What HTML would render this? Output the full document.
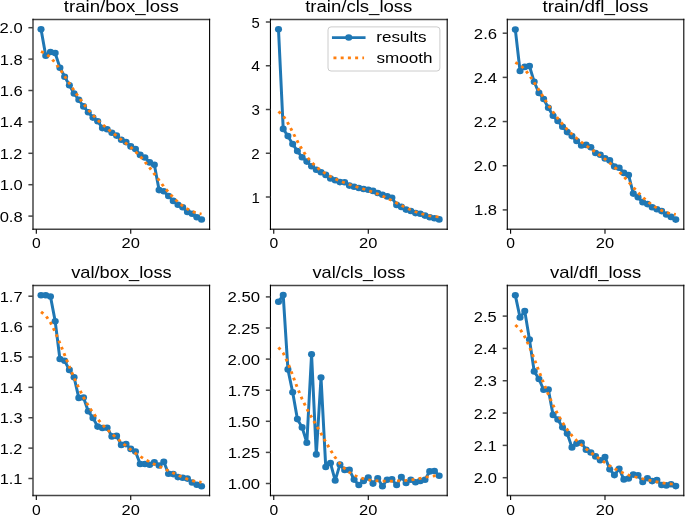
<!DOCTYPE html>
<html><head><meta charset="utf-8"><title>results</title>
<style>html,body{margin:0;padding:0;background:#fff;}svg{display:block;will-change:transform;}text{font-family:"Liberation Sans",sans-serif;fill:#000;}</style>
</head><body>
<svg width="685" height="515" viewBox="0 0 685 515">
<rect width="685" height="515" fill="#fff"/>
<clipPath id="c0"><rect x="30.841" y="19.5" width="165.047" height="209.65"/></clipPath>
<g transform="scale(1.07,1)" clip-path="url(#c0)">
<polyline points="38.34,29.20 42.76,55.70 47.17,52.00 51.58,53.10 56.00,67.70 60.41,76.70 64.82,85.20 69.23,93.50 73.65,99.70 78.06,106.40 82.47,112.20 86.89,117.60 91.30,121.20 95.71,128.10 100.13,129.20 104.54,132.70 108.95,135.60 113.36,139.70 117.78,142.10 122.19,146.40 126.60,149.00 131.02,154.90 135.43,157.50 139.84,162.40 144.26,164.70 148.67,190.10 153.08,191.20 157.49,196.00 161.91,200.90 166.32,204.70 170.73,207.30 175.15,212.00 179.56,213.70 183.97,217.20 188.39,219.50" fill="none" stroke="#1f77b4" stroke-width="2.8" stroke-linejoin="round" stroke-linecap="square"/>
<circle cx="38.34" cy="29.20" r="3.3" fill="#1f77b4"/>
<circle cx="42.76" cy="55.70" r="3.3" fill="#1f77b4"/>
<circle cx="47.17" cy="52.00" r="3.3" fill="#1f77b4"/>
<circle cx="51.58" cy="53.10" r="3.3" fill="#1f77b4"/>
<circle cx="56.00" cy="67.70" r="3.3" fill="#1f77b4"/>
<circle cx="60.41" cy="76.70" r="3.3" fill="#1f77b4"/>
<circle cx="64.82" cy="85.20" r="3.3" fill="#1f77b4"/>
<circle cx="69.23" cy="93.50" r="3.3" fill="#1f77b4"/>
<circle cx="73.65" cy="99.70" r="3.3" fill="#1f77b4"/>
<circle cx="78.06" cy="106.40" r="3.3" fill="#1f77b4"/>
<circle cx="82.47" cy="112.20" r="3.3" fill="#1f77b4"/>
<circle cx="86.89" cy="117.60" r="3.3" fill="#1f77b4"/>
<circle cx="91.30" cy="121.20" r="3.3" fill="#1f77b4"/>
<circle cx="95.71" cy="128.10" r="3.3" fill="#1f77b4"/>
<circle cx="100.13" cy="129.20" r="3.3" fill="#1f77b4"/>
<circle cx="104.54" cy="132.70" r="3.3" fill="#1f77b4"/>
<circle cx="108.95" cy="135.60" r="3.3" fill="#1f77b4"/>
<circle cx="113.36" cy="139.70" r="3.3" fill="#1f77b4"/>
<circle cx="117.78" cy="142.10" r="3.3" fill="#1f77b4"/>
<circle cx="122.19" cy="146.40" r="3.3" fill="#1f77b4"/>
<circle cx="126.60" cy="149.00" r="3.3" fill="#1f77b4"/>
<circle cx="131.02" cy="154.90" r="3.3" fill="#1f77b4"/>
<circle cx="135.43" cy="157.50" r="3.3" fill="#1f77b4"/>
<circle cx="139.84" cy="162.40" r="3.3" fill="#1f77b4"/>
<circle cx="144.26" cy="164.70" r="3.3" fill="#1f77b4"/>
<circle cx="148.67" cy="190.10" r="3.3" fill="#1f77b4"/>
<circle cx="153.08" cy="191.20" r="3.3" fill="#1f77b4"/>
<circle cx="157.49" cy="196.00" r="3.3" fill="#1f77b4"/>
<circle cx="161.91" cy="200.90" r="3.3" fill="#1f77b4"/>
<circle cx="166.32" cy="204.70" r="3.3" fill="#1f77b4"/>
<circle cx="170.73" cy="207.30" r="3.3" fill="#1f77b4"/>
<circle cx="175.15" cy="212.00" r="3.3" fill="#1f77b4"/>
<circle cx="179.56" cy="213.70" r="3.3" fill="#1f77b4"/>
<circle cx="183.97" cy="217.20" r="3.3" fill="#1f77b4"/>
<circle cx="188.39" cy="219.50" r="3.3" fill="#1f77b4"/>
<polyline points="38.34,51.58 42.76,53.60 47.17,57.44 51.58,62.75 56.00,69.13 60.41,76.12 64.82,83.35 69.23,90.51 73.65,97.36 78.06,103.77 82.47,109.67 86.89,115.05 91.30,119.94 95.71,124.38 100.13,128.47 104.54,132.29 108.95,135.96 113.36,139.61 117.78,143.35 122.19,147.31 126.60,151.64 131.02,156.44 135.43,161.79 139.84,167.66 144.26,173.91 148.67,180.29 153.08,186.51 157.49,192.31 161.91,197.50 166.32,202.02 170.73,205.85 175.15,209.00 179.56,211.44 183.97,213.12 188.39,213.99" fill="none" stroke="#ff7f0e" stroke-width="2.75" stroke-dasharray="2.8 3.95" stroke-linejoin="round" stroke-linecap="butt"/>
</g>
<line x1="32.45" y1="19.5" x2="210.15" y2="19.5" stroke="#454545" stroke-width="1.5"/>
<line x1="32.45" y1="229.15" x2="210.15" y2="229.15" stroke="#454545" stroke-width="1.5"/>
<line x1="33.0" y1="18.75" x2="33.0" y2="229.90" stroke="#000" stroke-width="1.1"/>
<line x1="209.6" y1="18.75" x2="209.6" y2="229.90" stroke="#000" stroke-width="1.1"/>
<line x1="28.40" y1="27.70" x2="33.0" y2="27.70" stroke="#454545" stroke-width="1.5"/>
<text transform="translate(-0.44,33.20) scale(1.1787,1)" font-size="14.1">2.0</text>
<line x1="28.40" y1="59.10" x2="33.0" y2="59.10" stroke="#454545" stroke-width="1.5"/>
<text transform="translate(-0.32,64.60) scale(1.1741,1)" font-size="14.1">1.8</text>
<line x1="28.40" y1="90.50" x2="33.0" y2="90.50" stroke="#454545" stroke-width="1.5"/>
<text transform="translate(-0.32,96.00) scale(1.1791,1)" font-size="14.1">1.6</text>
<line x1="28.40" y1="121.90" x2="33.0" y2="121.90" stroke="#454545" stroke-width="1.5"/>
<text transform="translate(-0.31,127.40) scale(1.1711,1)" font-size="14.1">1.4</text>
<line x1="28.40" y1="153.30" x2="33.0" y2="153.30" stroke="#454545" stroke-width="1.5"/>
<text transform="translate(-0.29,158.80) scale(1.1538,1)" font-size="14.1">1.2</text>
<line x1="28.40" y1="184.70" x2="33.0" y2="184.70" stroke="#454545" stroke-width="1.5"/>
<text transform="translate(-0.31,190.20) scale(1.1720,1)" font-size="14.1">1.0</text>
<line x1="28.40" y1="216.10" x2="33.0" y2="216.10" stroke="#454545" stroke-width="1.5"/>
<text transform="translate(-0.36,221.60) scale(1.1764,1)" font-size="14.1">0.8</text>
<line x1="36.31" y1="229.15" x2="36.31" y2="233.75" stroke="#000" stroke-width="1.1"/>
<text transform="translate(31.94,248.45) scale(1.1143,1)" font-size="14.1">0</text>
<line x1="130.74" y1="229.15" x2="130.74" y2="233.75" stroke="#000" stroke-width="1.1"/>
<text transform="translate(121.53,248.45) scale(1.1705,1)" font-size="14.1">20</text>
<text transform="translate(63.82,11.70) scale(1.1795,1)" font-size="15.8">train/box_loss</text>
<clipPath id="c1"><rect x="252.757" y="19.5" width="165.187" height="209.65"/></clipPath>
<g transform="scale(1.07,1)" clip-path="url(#c1)">
<polyline points="260.27,29.30 264.68,128.90 269.10,136.10 273.52,144.10 277.93,151.10 282.35,157.30 286.77,161.60 291.18,166.20 295.60,169.70 300.02,172.30 304.43,174.90 308.85,178.50 313.27,180.30 317.68,182.10 322.10,182.30 326.52,185.60 330.93,186.80 335.35,188.00 339.77,189.00 344.18,189.80 348.60,190.90 353.02,193.00 357.43,194.80 361.85,196.40 366.27,197.70 370.68,204.90 375.10,206.90 379.52,209.60 383.93,211.00 388.35,213.10 392.77,213.70 397.19,215.60 401.60,217.30 406.02,218.30 410.44,219.40" fill="none" stroke="#1f77b4" stroke-width="2.8" stroke-linejoin="round" stroke-linecap="square"/>
<circle cx="260.27" cy="29.30" r="3.3" fill="#1f77b4"/>
<circle cx="264.68" cy="128.90" r="3.3" fill="#1f77b4"/>
<circle cx="269.10" cy="136.10" r="3.3" fill="#1f77b4"/>
<circle cx="273.52" cy="144.10" r="3.3" fill="#1f77b4"/>
<circle cx="277.93" cy="151.10" r="3.3" fill="#1f77b4"/>
<circle cx="282.35" cy="157.30" r="3.3" fill="#1f77b4"/>
<circle cx="286.77" cy="161.60" r="3.3" fill="#1f77b4"/>
<circle cx="291.18" cy="166.20" r="3.3" fill="#1f77b4"/>
<circle cx="295.60" cy="169.70" r="3.3" fill="#1f77b4"/>
<circle cx="300.02" cy="172.30" r="3.3" fill="#1f77b4"/>
<circle cx="304.43" cy="174.90" r="3.3" fill="#1f77b4"/>
<circle cx="308.85" cy="178.50" r="3.3" fill="#1f77b4"/>
<circle cx="313.27" cy="180.30" r="3.3" fill="#1f77b4"/>
<circle cx="317.68" cy="182.10" r="3.3" fill="#1f77b4"/>
<circle cx="322.10" cy="182.30" r="3.3" fill="#1f77b4"/>
<circle cx="326.52" cy="185.60" r="3.3" fill="#1f77b4"/>
<circle cx="330.93" cy="186.80" r="3.3" fill="#1f77b4"/>
<circle cx="335.35" cy="188.00" r="3.3" fill="#1f77b4"/>
<circle cx="339.77" cy="189.00" r="3.3" fill="#1f77b4"/>
<circle cx="344.18" cy="189.80" r="3.3" fill="#1f77b4"/>
<circle cx="348.60" cy="190.90" r="3.3" fill="#1f77b4"/>
<circle cx="353.02" cy="193.00" r="3.3" fill="#1f77b4"/>
<circle cx="357.43" cy="194.80" r="3.3" fill="#1f77b4"/>
<circle cx="361.85" cy="196.40" r="3.3" fill="#1f77b4"/>
<circle cx="366.27" cy="197.70" r="3.3" fill="#1f77b4"/>
<circle cx="370.68" cy="204.90" r="3.3" fill="#1f77b4"/>
<circle cx="375.10" cy="206.90" r="3.3" fill="#1f77b4"/>
<circle cx="379.52" cy="209.60" r="3.3" fill="#1f77b4"/>
<circle cx="383.93" cy="211.00" r="3.3" fill="#1f77b4"/>
<circle cx="388.35" cy="213.10" r="3.3" fill="#1f77b4"/>
<circle cx="392.77" cy="213.70" r="3.3" fill="#1f77b4"/>
<circle cx="397.19" cy="215.60" r="3.3" fill="#1f77b4"/>
<circle cx="401.60" cy="217.30" r="3.3" fill="#1f77b4"/>
<circle cx="406.02" cy="218.30" r="3.3" fill="#1f77b4"/>
<circle cx="410.44" cy="219.40" r="3.3" fill="#1f77b4"/>
<polyline points="260.27,111.62 264.68,115.77 269.10,123.10 273.52,132.09 277.93,141.27 282.35,149.58 286.77,156.58 291.18,162.27 295.60,166.85 300.02,170.62 304.43,173.78 308.85,176.49 313.27,178.85 317.68,180.94 322.10,182.81 326.52,184.51 330.93,186.07 335.35,187.56 339.77,189.03 344.18,190.54 348.60,192.16 353.02,193.95 357.43,195.96 361.85,198.17 366.27,200.55 370.68,203.01 375.10,205.45 379.52,207.76 383.93,209.89 388.35,211.77 392.77,213.40 397.19,214.76 401.60,215.83 406.02,216.57 410.44,216.95" fill="none" stroke="#ff7f0e" stroke-width="2.75" stroke-dasharray="2.8 3.95" stroke-linejoin="round" stroke-linecap="butt"/>
</g>
<line x1="269.90" y1="19.5" x2="447.75" y2="19.5" stroke="#454545" stroke-width="1.5"/>
<line x1="269.90" y1="229.15" x2="447.75" y2="229.15" stroke="#454545" stroke-width="1.5"/>
<line x1="270.45" y1="18.75" x2="270.45" y2="229.90" stroke="#000" stroke-width="1.1"/>
<line x1="447.2" y1="18.75" x2="447.2" y2="229.90" stroke="#000" stroke-width="1.1"/>
<line x1="265.85" y1="22.00" x2="270.45" y2="22.00" stroke="#454545" stroke-width="1.5"/>
<text transform="translate(251.52,27.50) scale(1.0523,1)" font-size="14.1">5</text>
<line x1="265.85" y1="65.75" x2="270.45" y2="65.75" stroke="#454545" stroke-width="1.5"/>
<text transform="translate(251.34,71.25) scale(1.1135,1)" font-size="14.1">4</text>
<line x1="265.85" y1="109.50" x2="270.45" y2="109.50" stroke="#454545" stroke-width="1.5"/>
<text transform="translate(251.53,115.00) scale(1.0701,1)" font-size="14.1">3</text>
<line x1="265.85" y1="153.25" x2="270.45" y2="153.25" stroke="#454545" stroke-width="1.5"/>
<text transform="translate(251.30,158.75) scale(1.0730,1)" font-size="14.1">2</text>
<line x1="265.85" y1="197.00" x2="270.45" y2="197.00" stroke="#454545" stroke-width="1.5"/>
<text transform="translate(251.47,202.50) scale(1.0641,1)" font-size="14.1">1</text>
<line x1="273.76" y1="229.15" x2="273.76" y2="233.75" stroke="#000" stroke-width="1.1"/>
<text transform="translate(269.39,248.45) scale(1.1143,1)" font-size="14.1">0</text>
<line x1="368.28" y1="229.15" x2="368.28" y2="233.75" stroke="#000" stroke-width="1.1"/>
<text transform="translate(359.06,248.45) scale(1.1705,1)" font-size="14.1">20</text>
<text transform="translate(305.18,11.70) scale(1.1751,1)" font-size="15.8">train/cls_loss</text>
<clipPath id="c2"><rect x="474.112" y="19.5" width="164.953" height="209.65"/></clipPath>
<g transform="scale(1.07,1)" clip-path="url(#c2)">
<polyline points="481.61,29.60 486.02,71.00 490.43,66.90 494.84,66.10 499.25,81.80 503.66,92.90 508.07,99.00 512.48,107.80 516.89,115.80 521.30,121.00 525.72,126.80 530.13,132.10 534.54,136.10 538.95,141.00 543.36,145.50 547.77,144.90 552.18,147.20 556.59,153.00 561.00,154.70 565.41,158.40 569.82,160.40 574.23,166.60 578.64,167.70 583.05,172.90 587.46,175.00 591.87,193.60 596.28,197.30 600.69,202.20 605.10,204.10 609.51,207.20 613.93,209.20 618.34,211.10 622.75,214.50 627.16,216.90 631.57,219.60" fill="none" stroke="#1f77b4" stroke-width="2.8" stroke-linejoin="round" stroke-linecap="square"/>
<circle cx="481.61" cy="29.60" r="3.3" fill="#1f77b4"/>
<circle cx="486.02" cy="71.00" r="3.3" fill="#1f77b4"/>
<circle cx="490.43" cy="66.90" r="3.3" fill="#1f77b4"/>
<circle cx="494.84" cy="66.10" r="3.3" fill="#1f77b4"/>
<circle cx="499.25" cy="81.80" r="3.3" fill="#1f77b4"/>
<circle cx="503.66" cy="92.90" r="3.3" fill="#1f77b4"/>
<circle cx="508.07" cy="99.00" r="3.3" fill="#1f77b4"/>
<circle cx="512.48" cy="107.80" r="3.3" fill="#1f77b4"/>
<circle cx="516.89" cy="115.80" r="3.3" fill="#1f77b4"/>
<circle cx="521.30" cy="121.00" r="3.3" fill="#1f77b4"/>
<circle cx="525.72" cy="126.80" r="3.3" fill="#1f77b4"/>
<circle cx="530.13" cy="132.10" r="3.3" fill="#1f77b4"/>
<circle cx="534.54" cy="136.10" r="3.3" fill="#1f77b4"/>
<circle cx="538.95" cy="141.00" r="3.3" fill="#1f77b4"/>
<circle cx="543.36" cy="145.50" r="3.3" fill="#1f77b4"/>
<circle cx="547.77" cy="144.90" r="3.3" fill="#1f77b4"/>
<circle cx="552.18" cy="147.20" r="3.3" fill="#1f77b4"/>
<circle cx="556.59" cy="153.00" r="3.3" fill="#1f77b4"/>
<circle cx="561.00" cy="154.70" r="3.3" fill="#1f77b4"/>
<circle cx="565.41" cy="158.40" r="3.3" fill="#1f77b4"/>
<circle cx="569.82" cy="160.40" r="3.3" fill="#1f77b4"/>
<circle cx="574.23" cy="166.60" r="3.3" fill="#1f77b4"/>
<circle cx="578.64" cy="167.70" r="3.3" fill="#1f77b4"/>
<circle cx="583.05" cy="172.90" r="3.3" fill="#1f77b4"/>
<circle cx="587.46" cy="175.00" r="3.3" fill="#1f77b4"/>
<circle cx="591.87" cy="193.60" r="3.3" fill="#1f77b4"/>
<circle cx="596.28" cy="197.30" r="3.3" fill="#1f77b4"/>
<circle cx="600.69" cy="202.20" r="3.3" fill="#1f77b4"/>
<circle cx="605.10" cy="204.10" r="3.3" fill="#1f77b4"/>
<circle cx="609.51" cy="207.20" r="3.3" fill="#1f77b4"/>
<circle cx="613.93" cy="209.20" r="3.3" fill="#1f77b4"/>
<circle cx="618.34" cy="211.10" r="3.3" fill="#1f77b4"/>
<circle cx="622.75" cy="214.50" r="3.3" fill="#1f77b4"/>
<circle cx="627.16" cy="216.90" r="3.3" fill="#1f77b4"/>
<circle cx="631.57" cy="219.60" r="3.3" fill="#1f77b4"/>
<polyline points="481.61,62.52 486.02,64.91 490.43,69.37 494.84,75.42 499.25,82.48 503.66,90.03 508.07,97.64 512.48,105.02 516.89,111.97 521.30,118.38 525.72,124.20 530.13,129.44 534.54,134.12 538.95,138.31 543.36,142.09 547.77,145.59 552.18,148.91 556.59,152.19 561.00,155.54 565.41,159.07 569.82,162.88 574.23,167.06 578.64,171.66 583.05,176.66 587.46,181.94 591.87,187.29 596.28,192.45 600.69,197.19 605.10,201.39 609.51,204.99 613.93,208.01 618.34,210.49 622.75,212.43 627.16,213.78 631.57,214.48" fill="none" stroke="#ff7f0e" stroke-width="2.75" stroke-dasharray="2.8 3.95" stroke-linejoin="round" stroke-linecap="butt"/>
</g>
<line x1="506.75" y1="19.5" x2="684.35" y2="19.5" stroke="#454545" stroke-width="1.5"/>
<line x1="506.75" y1="229.15" x2="684.35" y2="229.15" stroke="#454545" stroke-width="1.5"/>
<line x1="507.3" y1="18.75" x2="507.3" y2="229.90" stroke="#000" stroke-width="1.1"/>
<line x1="683.8" y1="18.75" x2="683.8" y2="229.90" stroke="#000" stroke-width="1.1"/>
<line x1="502.70" y1="33.20" x2="507.3" y2="33.20" stroke="#454545" stroke-width="1.5"/>
<text transform="translate(473.86,38.70) scale(1.1857,1)" font-size="14.1">2.6</text>
<line x1="502.70" y1="77.38" x2="507.3" y2="77.38" stroke="#454545" stroke-width="1.5"/>
<text transform="translate(473.86,82.88) scale(1.1777,1)" font-size="14.1">2.4</text>
<line x1="502.70" y1="121.55" x2="507.3" y2="121.55" stroke="#454545" stroke-width="1.5"/>
<text transform="translate(473.87,127.05) scale(1.1609,1)" font-size="14.1">2.2</text>
<line x1="502.70" y1="165.72" x2="507.3" y2="165.72" stroke="#454545" stroke-width="1.5"/>
<text transform="translate(473.86,171.22) scale(1.1787,1)" font-size="14.1">2.0</text>
<line x1="502.70" y1="209.90" x2="507.3" y2="209.90" stroke="#454545" stroke-width="1.5"/>
<text transform="translate(473.98,215.40) scale(1.1741,1)" font-size="14.1">1.8</text>
<line x1="510.60" y1="229.15" x2="510.60" y2="233.75" stroke="#000" stroke-width="1.1"/>
<text transform="translate(506.23,248.45) scale(1.1143,1)" font-size="14.1">0</text>
<line x1="604.99" y1="229.15" x2="604.99" y2="233.75" stroke="#000" stroke-width="1.1"/>
<text transform="translate(595.77,248.45) scale(1.1705,1)" font-size="14.1">20</text>
<text transform="translate(542.60,11.70) scale(1.1942,1)" font-size="15.8">train/dfl_loss</text>
<clipPath id="c3"><rect x="30.841" y="285.6" width="165.047" height="209.89999999999998"/></clipPath>
<g transform="scale(1.07,1)" clip-path="url(#c3)">
<polyline points="38.34,295.30 42.76,295.30 47.17,296.50 51.58,321.30 56.00,359.00 60.41,360.80 64.82,369.90 69.23,377.30 73.65,397.90 78.06,397.50 82.47,411.30 86.89,417.90 91.30,426.60 95.71,428.00 100.13,427.70 104.54,436.40 108.95,435.90 113.36,444.90 117.78,444.10 122.19,448.90 126.60,451.50 131.02,464.00 135.43,464.00 139.84,464.70 144.26,462.40 148.67,465.50 153.08,461.70 157.49,473.80 161.91,474.10 166.32,477.10 170.73,477.70 175.15,478.60 179.56,482.50 183.97,484.80 188.39,486.20" fill="none" stroke="#1f77b4" stroke-width="2.8" stroke-linejoin="round" stroke-linecap="square"/>
<circle cx="38.34" cy="295.30" r="3.3" fill="#1f77b4"/>
<circle cx="42.76" cy="295.30" r="3.3" fill="#1f77b4"/>
<circle cx="47.17" cy="296.50" r="3.3" fill="#1f77b4"/>
<circle cx="51.58" cy="321.30" r="3.3" fill="#1f77b4"/>
<circle cx="56.00" cy="359.00" r="3.3" fill="#1f77b4"/>
<circle cx="60.41" cy="360.80" r="3.3" fill="#1f77b4"/>
<circle cx="64.82" cy="369.90" r="3.3" fill="#1f77b4"/>
<circle cx="69.23" cy="377.30" r="3.3" fill="#1f77b4"/>
<circle cx="73.65" cy="397.90" r="3.3" fill="#1f77b4"/>
<circle cx="78.06" cy="397.50" r="3.3" fill="#1f77b4"/>
<circle cx="82.47" cy="411.30" r="3.3" fill="#1f77b4"/>
<circle cx="86.89" cy="417.90" r="3.3" fill="#1f77b4"/>
<circle cx="91.30" cy="426.60" r="3.3" fill="#1f77b4"/>
<circle cx="95.71" cy="428.00" r="3.3" fill="#1f77b4"/>
<circle cx="100.13" cy="427.70" r="3.3" fill="#1f77b4"/>
<circle cx="104.54" cy="436.40" r="3.3" fill="#1f77b4"/>
<circle cx="108.95" cy="435.90" r="3.3" fill="#1f77b4"/>
<circle cx="113.36" cy="444.90" r="3.3" fill="#1f77b4"/>
<circle cx="117.78" cy="444.10" r="3.3" fill="#1f77b4"/>
<circle cx="122.19" cy="448.90" r="3.3" fill="#1f77b4"/>
<circle cx="126.60" cy="451.50" r="3.3" fill="#1f77b4"/>
<circle cx="131.02" cy="464.00" r="3.3" fill="#1f77b4"/>
<circle cx="135.43" cy="464.00" r="3.3" fill="#1f77b4"/>
<circle cx="139.84" cy="464.70" r="3.3" fill="#1f77b4"/>
<circle cx="144.26" cy="462.40" r="3.3" fill="#1f77b4"/>
<circle cx="148.67" cy="465.50" r="3.3" fill="#1f77b4"/>
<circle cx="153.08" cy="461.70" r="3.3" fill="#1f77b4"/>
<circle cx="157.49" cy="473.80" r="3.3" fill="#1f77b4"/>
<circle cx="161.91" cy="474.10" r="3.3" fill="#1f77b4"/>
<circle cx="166.32" cy="477.10" r="3.3" fill="#1f77b4"/>
<circle cx="170.73" cy="477.70" r="3.3" fill="#1f77b4"/>
<circle cx="175.15" cy="478.60" r="3.3" fill="#1f77b4"/>
<circle cx="179.56" cy="482.50" r="3.3" fill="#1f77b4"/>
<circle cx="183.97" cy="484.80" r="3.3" fill="#1f77b4"/>
<circle cx="188.39" cy="486.20" r="3.3" fill="#1f77b4"/>
<polyline points="38.34,311.87 42.76,315.56 47.17,322.54 51.58,332.05 56.00,343.17 60.41,354.96 64.82,366.66 69.23,377.77 73.65,388.01 78.06,397.27 82.47,405.52 86.89,412.78 91.30,419.11 95.71,424.63 100.13,429.50 104.54,433.91 108.95,438.05 113.36,442.03 117.78,445.92 122.19,449.68 126.60,453.24 131.02,456.49 135.43,459.38 139.84,461.92 144.26,464.20 148.67,466.37 153.08,468.53 157.49,470.75 161.91,473.00 166.32,475.21 170.73,477.28 175.15,479.12 179.56,480.63 183.97,481.71 188.39,482.27" fill="none" stroke="#ff7f0e" stroke-width="2.75" stroke-dasharray="2.8 3.95" stroke-linejoin="round" stroke-linecap="butt"/>
</g>
<line x1="32.45" y1="285.6" x2="210.15" y2="285.6" stroke="#454545" stroke-width="1.5"/>
<line x1="32.45" y1="495.5" x2="210.15" y2="495.5" stroke="#454545" stroke-width="1.5"/>
<line x1="33.0" y1="284.85" x2="33.0" y2="496.25" stroke="#000" stroke-width="1.1"/>
<line x1="209.6" y1="284.85" x2="209.6" y2="496.25" stroke="#000" stroke-width="1.1"/>
<line x1="28.40" y1="296.20" x2="33.0" y2="296.20" stroke="#454545" stroke-width="1.5"/>
<text transform="translate(-0.31,301.70) scale(1.1663,1)" font-size="14.1">1.7</text>
<line x1="28.40" y1="326.58" x2="33.0" y2="326.58" stroke="#454545" stroke-width="1.5"/>
<text transform="translate(-0.32,332.08) scale(1.1791,1)" font-size="14.1">1.6</text>
<line x1="28.40" y1="356.97" x2="33.0" y2="356.97" stroke="#454545" stroke-width="1.5"/>
<text transform="translate(-0.30,362.47) scale(1.1573,1)" font-size="14.1">1.5</text>
<line x1="28.40" y1="387.35" x2="33.0" y2="387.35" stroke="#454545" stroke-width="1.5"/>
<text transform="translate(-0.31,392.85) scale(1.1711,1)" font-size="14.1">1.4</text>
<line x1="28.40" y1="417.73" x2="33.0" y2="417.73" stroke="#454545" stroke-width="1.5"/>
<text transform="translate(-0.31,423.23) scale(1.1650,1)" font-size="14.1">1.3</text>
<line x1="28.40" y1="448.12" x2="33.0" y2="448.12" stroke="#454545" stroke-width="1.5"/>
<text transform="translate(-0.29,453.62) scale(1.1538,1)" font-size="14.1">1.2</text>
<line x1="28.40" y1="478.50" x2="33.0" y2="478.50" stroke="#454545" stroke-width="1.5"/>
<text transform="translate(-0.30,484.00) scale(1.1596,1)" font-size="14.1">1.1</text>
<line x1="36.31" y1="495.5" x2="36.31" y2="500.10" stroke="#000" stroke-width="1.1"/>
<text transform="translate(31.94,514.80) scale(1.1143,1)" font-size="14.1">0</text>
<line x1="130.74" y1="495.5" x2="130.74" y2="500.10" stroke="#000" stroke-width="1.1"/>
<text transform="translate(121.53,514.80) scale(1.1705,1)" font-size="14.1">20</text>
<text transform="translate(71.14,277.80) scale(1.1570,1)" font-size="15.8">val/box_loss</text>
<clipPath id="c4"><rect x="252.757" y="285.6" width="165.187" height="209.89999999999998"/></clipPath>
<g transform="scale(1.07,1)" clip-path="url(#c4)">
<polyline points="260.27,301.70 264.68,295.10 269.10,369.40 273.52,392.20 277.93,419.10 282.35,427.40 286.77,442.70 291.18,354.20 295.60,454.40 300.02,377.50 304.43,467.00 308.85,463.10 313.27,480.50 317.68,464.50 322.10,470.00 326.52,469.90 330.93,479.60 335.35,485.00 339.77,480.90 344.18,477.60 348.60,483.60 353.02,478.40 357.43,486.30 361.85,479.70 366.27,479.30 370.68,485.00 375.10,477.10 379.52,483.00 383.93,479.70 388.35,482.20 392.77,481.00 397.19,479.70 401.60,471.40 406.02,471.00 410.44,475.80" fill="none" stroke="#1f77b4" stroke-width="2.8" stroke-linejoin="round" stroke-linecap="square"/>
<circle cx="260.27" cy="301.70" r="3.3" fill="#1f77b4"/>
<circle cx="264.68" cy="295.10" r="3.3" fill="#1f77b4"/>
<circle cx="269.10" cy="369.40" r="3.3" fill="#1f77b4"/>
<circle cx="273.52" cy="392.20" r="3.3" fill="#1f77b4"/>
<circle cx="277.93" cy="419.10" r="3.3" fill="#1f77b4"/>
<circle cx="282.35" cy="427.40" r="3.3" fill="#1f77b4"/>
<circle cx="286.77" cy="442.70" r="3.3" fill="#1f77b4"/>
<circle cx="291.18" cy="354.20" r="3.3" fill="#1f77b4"/>
<circle cx="295.60" cy="454.40" r="3.3" fill="#1f77b4"/>
<circle cx="300.02" cy="377.50" r="3.3" fill="#1f77b4"/>
<circle cx="304.43" cy="467.00" r="3.3" fill="#1f77b4"/>
<circle cx="308.85" cy="463.10" r="3.3" fill="#1f77b4"/>
<circle cx="313.27" cy="480.50" r="3.3" fill="#1f77b4"/>
<circle cx="317.68" cy="464.50" r="3.3" fill="#1f77b4"/>
<circle cx="322.10" cy="470.00" r="3.3" fill="#1f77b4"/>
<circle cx="326.52" cy="469.90" r="3.3" fill="#1f77b4"/>
<circle cx="330.93" cy="479.60" r="3.3" fill="#1f77b4"/>
<circle cx="335.35" cy="485.00" r="3.3" fill="#1f77b4"/>
<circle cx="339.77" cy="480.90" r="3.3" fill="#1f77b4"/>
<circle cx="344.18" cy="477.60" r="3.3" fill="#1f77b4"/>
<circle cx="348.60" cy="483.60" r="3.3" fill="#1f77b4"/>
<circle cx="353.02" cy="478.40" r="3.3" fill="#1f77b4"/>
<circle cx="357.43" cy="486.30" r="3.3" fill="#1f77b4"/>
<circle cx="361.85" cy="479.70" r="3.3" fill="#1f77b4"/>
<circle cx="366.27" cy="479.30" r="3.3" fill="#1f77b4"/>
<circle cx="370.68" cy="485.00" r="3.3" fill="#1f77b4"/>
<circle cx="375.10" cy="477.10" r="3.3" fill="#1f77b4"/>
<circle cx="379.52" cy="483.00" r="3.3" fill="#1f77b4"/>
<circle cx="383.93" cy="479.70" r="3.3" fill="#1f77b4"/>
<circle cx="388.35" cy="482.20" r="3.3" fill="#1f77b4"/>
<circle cx="392.77" cy="481.00" r="3.3" fill="#1f77b4"/>
<circle cx="397.19" cy="479.70" r="3.3" fill="#1f77b4"/>
<circle cx="401.60" cy="471.40" r="3.3" fill="#1f77b4"/>
<circle cx="406.02" cy="471.00" r="3.3" fill="#1f77b4"/>
<circle cx="410.44" cy="475.80" r="3.3" fill="#1f77b4"/>
<polyline points="260.27,347.36 264.68,353.02 269.10,363.03 273.52,375.32 277.93,387.80 282.35,399.07 286.77,408.72 291.18,417.19 295.60,425.26 300.02,433.47 304.43,441.87 308.85,450.05 313.27,457.46 317.68,463.68 322.10,468.61 326.52,472.36 330.93,475.17 335.35,477.26 339.77,478.77 344.18,479.82 348.60,480.51 353.02,480.92 357.43,481.12 361.85,481.19 366.27,481.15 370.68,481.02 375.10,480.79 379.52,480.44 383.93,479.93 388.35,479.22 392.77,478.35 397.19,477.40 401.60,476.49 406.02,475.79 410.44,475.40" fill="none" stroke="#ff7f0e" stroke-width="2.75" stroke-dasharray="2.8 3.95" stroke-linejoin="round" stroke-linecap="butt"/>
</g>
<line x1="269.90" y1="285.6" x2="447.75" y2="285.6" stroke="#454545" stroke-width="1.5"/>
<line x1="269.90" y1="495.5" x2="447.75" y2="495.5" stroke="#454545" stroke-width="1.5"/>
<line x1="270.45" y1="284.85" x2="270.45" y2="496.25" stroke="#000" stroke-width="1.1"/>
<line x1="447.2" y1="284.85" x2="447.2" y2="496.25" stroke="#000" stroke-width="1.1"/>
<line x1="265.85" y1="296.90" x2="270.45" y2="296.90" stroke="#454545" stroke-width="1.5"/>
<text transform="translate(227.52,302.40) scale(1.1877,1)" font-size="14.1">2.50</text>
<line x1="265.85" y1="328.00" x2="270.45" y2="328.00" stroke="#454545" stroke-width="1.5"/>
<text transform="translate(227.53,333.50) scale(1.1776,1)" font-size="14.1">2.25</text>
<line x1="265.85" y1="359.10" x2="270.45" y2="359.10" stroke="#454545" stroke-width="1.5"/>
<text transform="translate(227.52,364.60) scale(1.1877,1)" font-size="14.1">2.00</text>
<line x1="265.85" y1="390.20" x2="270.45" y2="390.20" stroke="#454545" stroke-width="1.5"/>
<text transform="translate(227.66,395.70) scale(1.1730,1)" font-size="14.1">1.75</text>
<line x1="265.85" y1="421.30" x2="270.45" y2="421.30" stroke="#454545" stroke-width="1.5"/>
<text transform="translate(227.65,426.80) scale(1.1832,1)" font-size="14.1">1.50</text>
<line x1="265.85" y1="452.40" x2="270.45" y2="452.40" stroke="#454545" stroke-width="1.5"/>
<text transform="translate(227.66,457.90) scale(1.1730,1)" font-size="14.1">1.25</text>
<line x1="265.85" y1="483.50" x2="270.45" y2="483.50" stroke="#454545" stroke-width="1.5"/>
<text transform="translate(227.65,489.00) scale(1.1832,1)" font-size="14.1">1.00</text>
<line x1="273.76" y1="495.5" x2="273.76" y2="500.10" stroke="#000" stroke-width="1.1"/>
<text transform="translate(269.39,514.80) scale(1.1143,1)" font-size="14.1">0</text>
<line x1="368.28" y1="495.5" x2="368.28" y2="500.10" stroke="#000" stroke-width="1.1"/>
<text transform="translate(359.06,514.80) scale(1.1705,1)" font-size="14.1">20</text>
<text transform="translate(312.50,277.80) scale(1.1503,1)" font-size="15.8">val/cls_loss</text>
<clipPath id="c5"><rect x="474.112" y="285.6" width="164.953" height="209.89999999999998"/></clipPath>
<g transform="scale(1.07,1)" clip-path="url(#c5)">
<polyline points="481.61,295.30 486.02,317.50 490.43,311.10 494.84,339.60 499.25,371.40 503.66,379.00 508.07,389.80 512.48,389.60 516.89,414.90 521.30,419.50 525.72,427.30 530.13,433.60 534.54,447.40 538.95,443.60 543.36,442.70 547.77,449.70 552.18,452.50 556.59,456.40 561.00,460.30 565.41,457.10 569.82,469.20 574.23,475.10 578.64,468.80 583.05,479.40 587.46,478.50 591.87,474.60 596.28,475.30 600.69,482.00 605.10,478.30 609.51,481.10 613.93,480.10 618.34,485.00 622.75,485.40 627.16,484.20 631.57,486.10" fill="none" stroke="#1f77b4" stroke-width="2.8" stroke-linejoin="round" stroke-linecap="square"/>
<circle cx="481.61" cy="295.30" r="3.3" fill="#1f77b4"/>
<circle cx="486.02" cy="317.50" r="3.3" fill="#1f77b4"/>
<circle cx="490.43" cy="311.10" r="3.3" fill="#1f77b4"/>
<circle cx="494.84" cy="339.60" r="3.3" fill="#1f77b4"/>
<circle cx="499.25" cy="371.40" r="3.3" fill="#1f77b4"/>
<circle cx="503.66" cy="379.00" r="3.3" fill="#1f77b4"/>
<circle cx="508.07" cy="389.80" r="3.3" fill="#1f77b4"/>
<circle cx="512.48" cy="389.60" r="3.3" fill="#1f77b4"/>
<circle cx="516.89" cy="414.90" r="3.3" fill="#1f77b4"/>
<circle cx="521.30" cy="419.50" r="3.3" fill="#1f77b4"/>
<circle cx="525.72" cy="427.30" r="3.3" fill="#1f77b4"/>
<circle cx="530.13" cy="433.60" r="3.3" fill="#1f77b4"/>
<circle cx="534.54" cy="447.40" r="3.3" fill="#1f77b4"/>
<circle cx="538.95" cy="443.60" r="3.3" fill="#1f77b4"/>
<circle cx="543.36" cy="442.70" r="3.3" fill="#1f77b4"/>
<circle cx="547.77" cy="449.70" r="3.3" fill="#1f77b4"/>
<circle cx="552.18" cy="452.50" r="3.3" fill="#1f77b4"/>
<circle cx="556.59" cy="456.40" r="3.3" fill="#1f77b4"/>
<circle cx="561.00" cy="460.30" r="3.3" fill="#1f77b4"/>
<circle cx="565.41" cy="457.10" r="3.3" fill="#1f77b4"/>
<circle cx="569.82" cy="469.20" r="3.3" fill="#1f77b4"/>
<circle cx="574.23" cy="475.10" r="3.3" fill="#1f77b4"/>
<circle cx="578.64" cy="468.80" r="3.3" fill="#1f77b4"/>
<circle cx="583.05" cy="479.40" r="3.3" fill="#1f77b4"/>
<circle cx="587.46" cy="478.50" r="3.3" fill="#1f77b4"/>
<circle cx="591.87" cy="474.60" r="3.3" fill="#1f77b4"/>
<circle cx="596.28" cy="475.30" r="3.3" fill="#1f77b4"/>
<circle cx="600.69" cy="482.00" r="3.3" fill="#1f77b4"/>
<circle cx="605.10" cy="478.30" r="3.3" fill="#1f77b4"/>
<circle cx="609.51" cy="481.10" r="3.3" fill="#1f77b4"/>
<circle cx="613.93" cy="480.10" r="3.3" fill="#1f77b4"/>
<circle cx="618.34" cy="485.00" r="3.3" fill="#1f77b4"/>
<circle cx="622.75" cy="485.40" r="3.3" fill="#1f77b4"/>
<circle cx="627.16" cy="484.20" r="3.3" fill="#1f77b4"/>
<circle cx="631.57" cy="486.10" r="3.3" fill="#1f77b4"/>
<polyline points="481.61,325.09 486.02,329.13 490.43,336.70 494.84,346.91 499.25,358.69 503.66,371.04 508.07,383.17 512.48,394.59 516.89,405.03 521.30,414.37 525.72,422.58 530.13,429.64 534.54,435.64 538.95,440.71 543.36,445.06 547.77,448.91 552.18,452.49 556.59,455.93 561.00,459.31 565.41,462.61 569.82,465.76 574.23,468.65 578.64,471.18 583.05,473.31 587.46,475.05 591.87,476.48 596.28,477.69 600.69,478.78 605.10,479.83 609.51,480.85 613.93,481.82 618.34,482.71 622.75,483.45 627.16,483.97 631.57,484.25" fill="none" stroke="#ff7f0e" stroke-width="2.75" stroke-dasharray="2.8 3.95" stroke-linejoin="round" stroke-linecap="butt"/>
</g>
<line x1="506.75" y1="285.6" x2="684.35" y2="285.6" stroke="#454545" stroke-width="1.5"/>
<line x1="506.75" y1="495.5" x2="684.35" y2="495.5" stroke="#454545" stroke-width="1.5"/>
<line x1="507.3" y1="284.85" x2="507.3" y2="496.25" stroke="#000" stroke-width="1.1"/>
<line x1="683.8" y1="284.85" x2="683.8" y2="496.25" stroke="#000" stroke-width="1.1"/>
<line x1="502.70" y1="316.10" x2="507.3" y2="316.10" stroke="#454545" stroke-width="1.5"/>
<text transform="translate(473.87,321.60) scale(1.1643,1)" font-size="14.1">2.5</text>
<line x1="502.70" y1="348.42" x2="507.3" y2="348.42" stroke="#454545" stroke-width="1.5"/>
<text transform="translate(473.86,353.92) scale(1.1777,1)" font-size="14.1">2.4</text>
<line x1="502.70" y1="380.74" x2="507.3" y2="380.74" stroke="#454545" stroke-width="1.5"/>
<text transform="translate(473.87,386.24) scale(1.1718,1)" font-size="14.1">2.3</text>
<line x1="502.70" y1="413.06" x2="507.3" y2="413.06" stroke="#454545" stroke-width="1.5"/>
<text transform="translate(473.87,418.56) scale(1.1609,1)" font-size="14.1">2.2</text>
<line x1="502.70" y1="445.38" x2="507.3" y2="445.38" stroke="#454545" stroke-width="1.5"/>
<text transform="translate(473.87,450.88) scale(1.1665,1)" font-size="14.1">2.1</text>
<line x1="502.70" y1="477.70" x2="507.3" y2="477.70" stroke="#454545" stroke-width="1.5"/>
<text transform="translate(473.86,483.20) scale(1.1787,1)" font-size="14.1">2.0</text>
<line x1="510.60" y1="495.5" x2="510.60" y2="500.10" stroke="#000" stroke-width="1.1"/>
<text transform="translate(506.23,514.80) scale(1.1143,1)" font-size="14.1">0</text>
<line x1="604.99" y1="495.5" x2="604.99" y2="500.10" stroke="#000" stroke-width="1.1"/>
<text transform="translate(595.77,514.80) scale(1.1705,1)" font-size="14.1">20</text>
<text transform="translate(549.92,277.80) scale(1.1711,1)" font-size="15.8">val/dfl_loss</text>
<rect x="328.0" y="26.9" width="111.90" height="44.10" rx="3" ry="3" fill="#fff" fill-opacity="0.8" stroke="#cccccc" stroke-width="1"/>
<g transform="scale(1.07,1)">
<line x1="311.64" y1="37.55" x2="340.23" y2="37.55" stroke="#1f77b4" stroke-width="2.8" stroke-linecap="square"/>
<circle cx="325.93" cy="37.55" r="3.3" fill="#1f77b4"/>
<line x1="311.64" y1="57.9" x2="340.23" y2="57.9" stroke="#ff7f0e" stroke-width="2.75" stroke-dasharray="2.8 3.95"/>
</g>
<text transform="translate(376.37,42.30) scale(1.2092,1)" font-size="14.1">results</text>
<text transform="translate(376.46,62.50) scale(1.2121,1)" font-size="14.1">smooth</text>
</svg>
</body></html>
